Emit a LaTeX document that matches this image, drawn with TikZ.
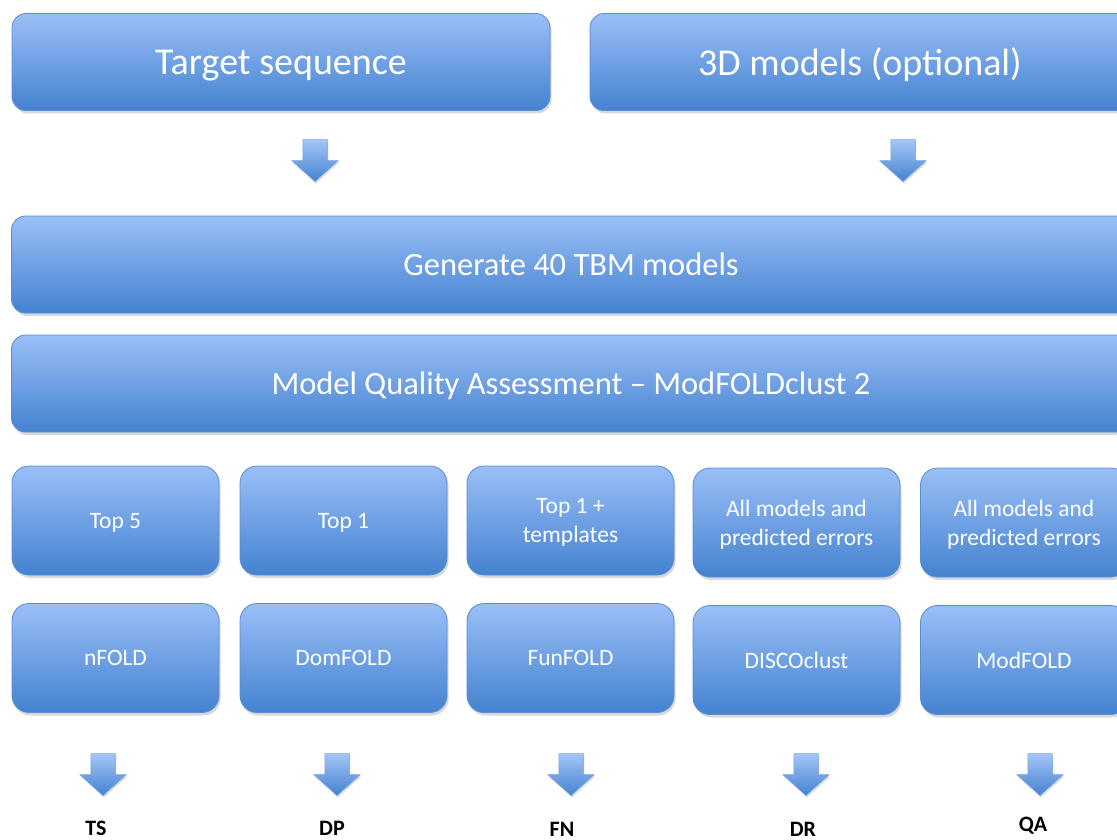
\documentclass[tikz,border=0pt]{standalone}
\usepackage{fontspec}
\setmainfont{Carlito}
\usepackage{xcolor}
\usetikzlibrary{shapes.arrows,shadows}
\definecolor{StepTop}{HTML}{9ABFF7}
\definecolor{StepBottom}{HTML}{4482D0}
\definecolor{StepEdge}{HTML}{5A8CD2}
\definecolor{StepShadow}{HTML}{8A8F99}

\begin{document}
\begin{tikzpicture}[
    x=1pt,y=-1pt,
    stage/.style={
      draw=StepEdge,
      top color=StepTop,
      bottom color=StepBottom,
      rounded corners=14pt,
      line width=0.8pt,
      text=white,
      align=center,
      inner sep=0pt,
      text depth=0pt,
      drop shadow={shadow xshift=1.5pt,shadow yshift=-3pt,opacity=0.35,fill=StepShadow}
    },
    wide/.style={stage,minimum height=97pt,font=\fontsize{32.5}{36}\selectfont},
    headline/.style={wide,font=\fontsize{38}{42}\selectfont},
    tile/.style={stage,rounded corners=17pt,minimum width=207pt,minimum height=109pt,
      font=\fontsize{23.5}{29}\selectfont},
    down/.style={
      single arrow,
      shape border rotate=270,
      draw=StepEdge!80,
      line width=0.5pt,
      top color=StepTop!90!white,
      bottom color=StepBottom,
      minimum width=46pt,
      minimum height=42pt,
      single arrow head extend=11pt,
      single arrow tip angle=96,
      inner sep=12pt,
      drop shadow={shadow xshift=1pt,shadow yshift=-2pt,opacity=0.3,fill=StepShadow}
    },
    outcome/.style={font=\bfseries\fontsize{22}{24}\selectfont,text=black}
  ]
    \useasboundingbox (0,0) rectangle (1117,840);
    \clip (0,0) rectangle (1117,840);

    \node[headline,minimum width=538pt] (target) at (281,62) {Target sequence};
    \node[headline,minimum width=540pt] (structs) at (860,62) {3D models (optional)};

    \node[down] (dtarget) at (315,155) {};
    \node[down] (dstructs) at (903,155) {};

    \node[wide,minimum width=1119pt] (generate) at (571,264.5) {Generate 40 TBM models};
    \node[wide,minimum width=1119pt] (assess) at (571,383.5) {Model Quality Assessment -- ModFOLDclust 2};

    % selections fed to each server
    \node[tile] (top5) at (115.5,520.5) {Top 5};
    \node[tile] (top1) at (343.5,520.5) {Top 1};
    \node[tile] (toptpl) at (570.5,520.5) {Top 1 +\\templates};
    \node[tile] (allerr) at (796.5,522.5) {All models and\\predicted errors};
    \node[tile] (allqa) at (1024,522.5) {All models and\\predicted errors};

    % servers
    \node[tile] (nfold) at (115.5,658) {nFOLD};
    \node[tile] (domfold) at (343.5,658) {DomFOLD};
    \node[tile] (funfold) at (570.5,658) {FunFOLD};
    \node[tile] (disco) at (796.5,660) {DISCOclust};
    \node[tile] (modfold) at (1024,660) {ModFOLD};

    \node[down] (dts) at (103,769) {};
    \node[down] (ddp) at (337,769) {};
    \node[down] (dfn) at (571,769) {};
    \node[down] (ddr) at (806,769) {};
    \node[down] (dqa) at (1040,769) {};

    \node[outcome] (ts) at (96,828) {TS};
    \node[outcome] (dp) at (332,828) {DP};
    \node[outcome] (fn) at (562,829) {FN};
    \node[outcome] (dr) at (803,829) {DR};
    \node[outcome] (qa) at (1033,826) {QA};
\end{tikzpicture}
\end{document}
